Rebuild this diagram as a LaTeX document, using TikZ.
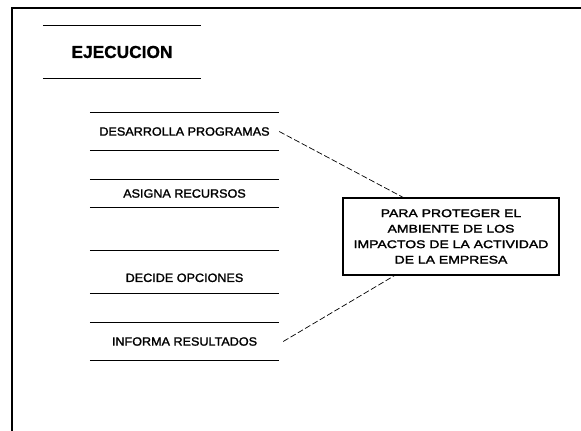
\documentclass[tikz,border=0pt]{standalone}
\usepackage{fontspec}
\setmainfont{Liberation Sans}
\newfontfamily\itemfont[FakeStretch=1.05,FakeBold=1.6]{Liberation Sans}
\newfontfamily\boxfont[FakeStretch=1.25,FakeBold=2]{Liberation Sans}
\newfontfamily\titlefont[FakeBold=1]{Liberation Sans Bold}
\usetikzlibrary{calc}
\tikzset{
  frame/.style={line width=1.6pt},
  rule/.style={line width=1.1pt},
  item/.style={inner sep=0pt, minimum width=189pt, font=\itemfont\fontsize{12}{13}\selectfont},
  target/.style={draw, line width=1.1pt, inner sep=0pt, minimum width=216pt, minimum height=77pt,
    align=center, font=\boxfont\fontsize{11.2}{15.5}\selectfont},
  link/.style={line width=0.7pt, dash pattern=on 6pt off 2.5pt}
}
\begin{document}
\begin{tikzpicture}[x=1pt,y=-1pt]
\useasboundingbox (0,0) rectangle (581,431);
% outer frame
\coordinate (ftl) at (12,8);
\coordinate (ftr) at (581,8);
\coordinate (fbl) at (12,431);
\draw[frame] (fbl) -- (ftl) -- (ftr);
% title
\node[inner sep=0pt, minimum width=158pt, minimum height=52pt, font=\titlefont\fontsize{17.3}{19}\selectfont] (ej) at (122,52) {EJECUCION};
\draw[rule] (ej.north west) -- (ej.north east);
\draw[rule] (ej.south west) -- (ej.south east);
% items
\node[item, minimum height=37pt] (des) at (184.5,131.5) {DESARROLLA PROGRAMAS};
\node[item, minimum height=27pt] (asi) at (184.5,193.5) {ASIGNA RECURSOS};
\node[item, minimum height=42pt, text height=20pt] (dec) at (184.5,272) {DECIDE OPCIONES};
\node[item, minimum height=37pt] (inf) at (184.5,341.5) {INFORMA RESULTADOS};
\foreach \n in {des,asi,dec,inf}{
  \draw[rule] (\n.north west) -- (\n.north east);
  \draw[rule] (\n.south west) -- (\n.south east);
}
% target box
\node[target] (box) at (451,236.5) {PARA PROTEGER EL\\AMBIENTE DE LOS\\IMPACTOS DE LA ACTIVIDAD\\DE LA EMPRESA};
% connectors
\draw[link] (des.east) -- ($(box.north west)!0.28!(box.north east)$);
\draw[link] ($(inf.east)+(4,0)$) -- ($(box.south west)!0.24!(box.south east)$);
\end{tikzpicture}
\end{document}
